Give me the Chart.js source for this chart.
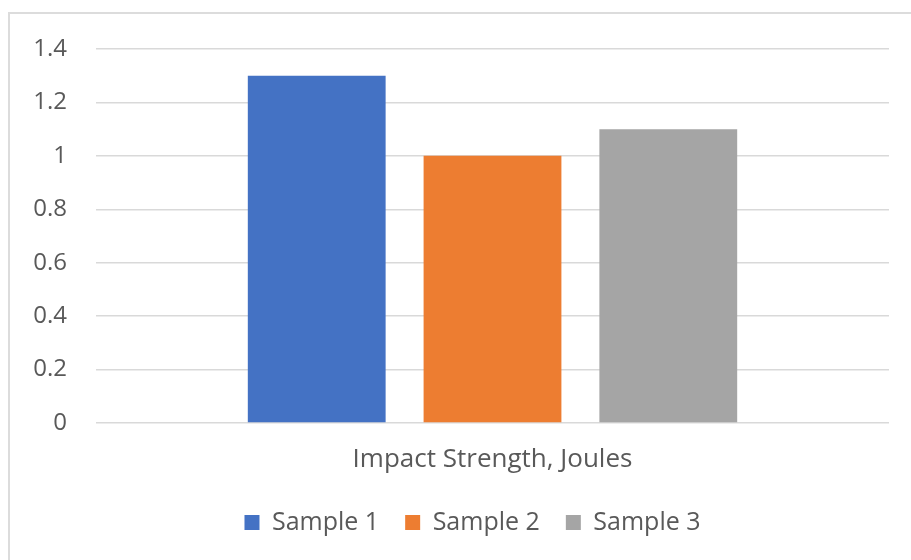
<!DOCTYPE html>
<html>
<head>
<meta charset="utf-8">
<script src="https://cdn.jsdelivr.net/npm/chart.js@4.4.1/dist/chart.umd.min.js"></script>
<style>
  html, body { margin: 0; padding: 0; background: #ffffff; overflow: hidden; }
  #wrap { position: relative; width: 911px; height: 560px; overflow: hidden; }
  #frame { position: absolute; left: 8px; top: 12px; width: 1000px; height: 1000px;
           border: 2px solid #dcdcdc; box-sizing: border-box; }
  canvas { position: absolute; left: 0; top: 0; }
</style>
</head>
<body>
<div id="wrap">
  <div id="frame"></div>
  <canvas id="chart" width="911" height="560"></canvas>
</div>
<script>
// Impact strength of three samples, in joules
const categories = ['Impact Strength, Joules'];
const seriesNames = ['Sample 1', 'Sample 2', 'Sample 3'];
const sample1 = [1.3];
const sample2 = [1.0];
const sample3 = [1.1];
const yTicks = [0, 0.2, 0.4, 0.6, 0.8, 1, 1.2, 1.4];
const yTickLabels = ['0', '0.2', '0.4', '0.6', '0.8', '1', '1.2', '1.4'];

const colors = ['#4472C4', '#ED7D31', '#A5A5A5'];
const textColor = '#595959';
const fontFamily = "'Open Sans', 'Noto Sans', sans-serif";

const seriesValues = [sample1, sample2, sample3];

// nudges the legend row to the right of the canvas centre
const legendShift = {
  id: 'legendShift',
  afterLayout(chart, args, opts) {
    const lg = chart.legend;
    if (lg) { lg.left += opts.dx; lg.right += opts.dx; }
  }
};

new Chart(document.getElementById('chart'), {
  type: 'bar',
  data: {
    labels: categories,
    datasets: seriesNames.map((name, i) => ({
      label: name,
      data: seriesValues[i],
      backgroundColor: colors[i],
      borderWidth: 0,
      categoryPercentage: 0.665,
      barPercentage: 0.784
    }))
  },
  plugins: [legendShift],
  options: {
    responsive: false,
    devicePixelRatio: 1,
    animation: false,
    layout: { padding: { top: 49, right: 22, bottom: 15, left: 0 } },
    plugins: {
      tooltip: { enabled: false },
      legendShift: { dx: 28 },
      legend: {
        position: 'bottom',
        labels: {
          boxWidth: 15,
          boxHeight: 15,
          padding: 26,
          color: textColor,
          font: { family: fontFamily, size: 25 }
        }
      }
    },
    scales: {
      x: {
        grid: { display: false, drawTicks: false },
        border: { display: false },
        ticks: {
          color: textColor,
          padding: 21,
          font: { family: fontFamily, size: 26 }
        },
        afterFit: (scale) => { scale.height = 61; }
      },
      y: {
        min: 0,
        max: 1.4,
        afterBuildTicks: (scale) => { scale.ticks = yTicks.map(v => ({ value: v })); },
        grid: { color: '#d9d9d9', lineWidth: 1.5, drawTicks: false },
        border: { display: false },
        ticks: {
          color: textColor,
          padding: 29,
          font: { family: fontFamily, size: 24 },
          callback: (value) => yTickLabels[yTicks.indexOf(value)] ?? ''
        },
        afterFit: (scale) => { scale.width = 96; }
      }
    }
  }
});
</script>
</body>
</html>
